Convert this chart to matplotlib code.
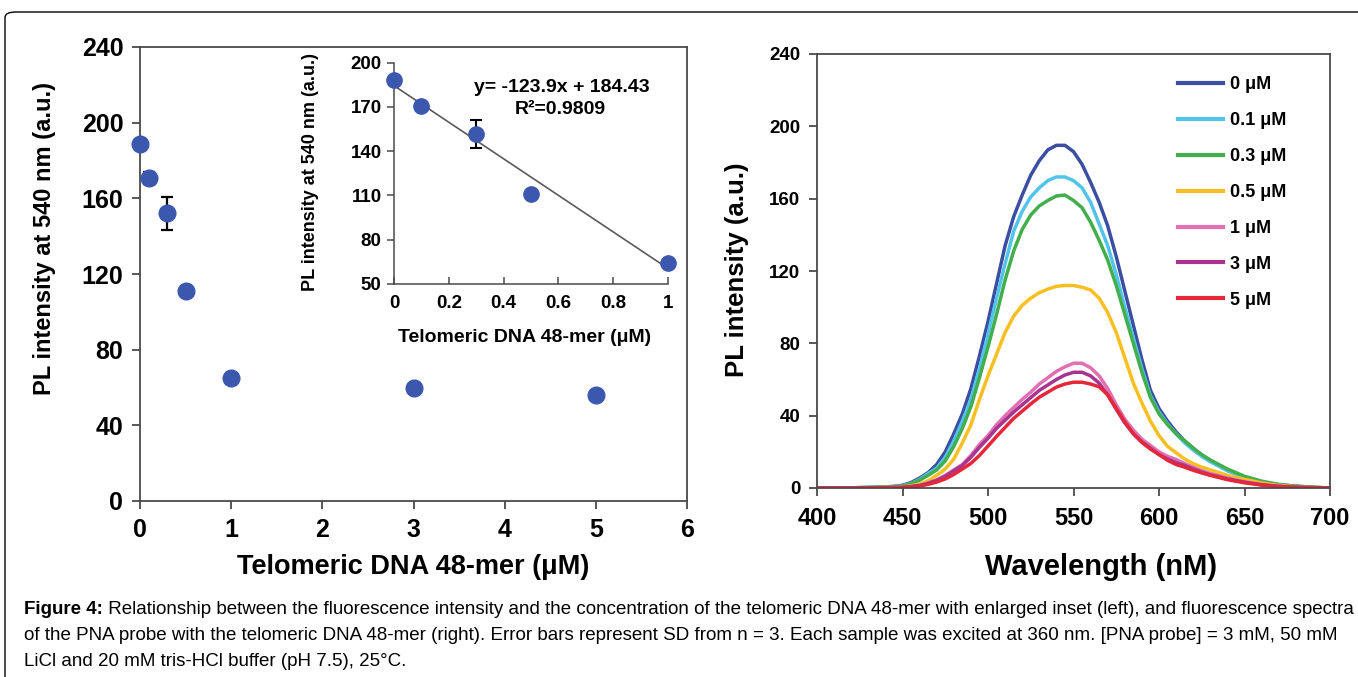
import matplotlib
matplotlib.use('Agg')
import matplotlib.pyplot as plt
from matplotlib.patches import FancyBboxPatch
import numpy as np

# ---------------- data ----------------
conc = [0, 0.1, 0.3, 0.5, 1, 3, 5]
pl_540 = [188.5, 170.7, 152.0, 111.0, 65.0, 59.5, 56.0]
pl_err = [0, 3.0, 8.5, 0, 0, 0, 0]

inset_conc = [0, 0.1, 0.3, 0.5, 1]
inset_pl = [188.3, 170.7, 151.5, 111.0, 64.4]
inset_err = [0, 1.5, 9.5, 0, 0]
fit_slope = -123.9
fit_intercept = 184.43
fit_text = "y= -123.9x + 184.43"
r2_text = "R\u00b2=0.9809"

wavelength = [400, 410, 420, 430, 440,
              445, 450, 455, 460, 465, 470, 475, 480, 485, 490,
              495, 500, 505, 510, 515, 520, 525, 530, 535, 540,
              545, 550, 555, 560, 565, 570, 575, 580, 585, 590,
              595, 600, 605, 610, 615, 620, 625, 630,
              640, 650, 660, 670, 680, 690, 700]
spec_0 = [0, 0, 0.1, 0.3, 0.6,
          0.9, 1.5, 3, 5.5, 8.5, 13, 20, 30, 41, 55,
          73, 92, 113, 134, 150, 162, 173, 181, 187, 189.5,
          189.5, 186, 179, 169, 158, 145, 128, 109, 90, 71,
          54, 44, 37, 31, 26, 22, 18, 15,
          10, 6, 3.3, 1.8, 1, 0.4, 0]
spec_01 = [0, 0, 0.1, 0.3, 0.6,
           0.8, 1.3, 2.5, 4.8, 8, 11, 17, 26, 37, 49,
           66, 85, 105, 124, 142, 153, 161, 166, 170, 172,
           172, 170, 166, 158, 146, 134, 118, 100, 83, 66,
           51, 42, 35.5, 30, 25, 21, 17.5, 14.5,
           9.5, 5.8, 3.3, 1.8, 1, 0.4, 0]
spec_03 = [0, 0, 0.1, 0.3, 0.6,
           0.8, 1.2, 2.3, 4.3, 7, 10, 15, 23, 33, 45,
           61, 78, 96, 115, 131, 143, 151, 156, 159, 161.5,
           162, 159, 155, 147, 137, 126, 112, 96, 80, 64,
           50, 41, 35, 30, 26, 22, 18.5, 15.5,
           10.5, 6.5, 3.8, 2, 1, 0.4, 0]
spec_05 = [0, 0, 0, 0.1, 0.3,
           0.4, 0.6, 1.2, 2.2, 4, 7, 10.5, 16, 25, 35,
           49, 62, 74, 86, 95, 101, 105, 108, 110, 111.5,
           112, 112, 111, 109.5, 105, 97, 86, 72, 58, 47,
           37, 29, 23, 19.5, 16, 13.5, 11.5, 10,
           7, 4.8, 2.8, 1.4, 0.7, 0.3, 0]
spec_1 = [0, 0, 0, 0.1, 0.2,
          0.3, 0.4, 0.8, 1.5, 2.8, 4.5, 7, 10, 13, 18,
          24, 29, 35, 40, 44.5, 49, 53, 57.5, 61, 64.5,
          67, 69, 69, 66.5, 62, 55, 46, 38, 32, 27,
          23.5, 20, 17.5, 15.8, 13.5, 11.5, 9.5, 8,
          5.5, 3.5, 2, 1, 0.5, 0.2, 0]
spec_3 = [0, 0, 0, 0.1, 0.2,
          0.3, 0.4, 0.8, 1.4, 2.6, 4.2, 6.5, 9.5, 12.5, 17,
          22.5, 27.5, 33, 37.5, 42, 46, 50, 54, 57, 60,
          62.5, 64, 64, 62, 58, 51.5, 43.5, 36, 30, 25.5,
          22, 18.5, 16, 14, 12.5, 10.5, 8.8, 7.3,
          5, 3.2, 1.8, 0.9, 0.4, 0.2, 0]
spec_5 = [0, 0, 0, 0.1, 0.2,
          0.2, 0.3, 0.6, 1.1, 2, 3.3, 5, 7.5, 10.5, 13.6,
          18, 23.2, 28.5, 33.5, 38.5, 42.5, 46.5, 50.2, 53, 55.8,
          57.5, 58.5, 58.5, 57.5, 56, 51.5, 44, 36.5, 30, 25.2,
          21.5, 18.5, 15.3, 13, 11.5, 9.8, 8.3, 7,
          4.6, 2.9, 1.6, 0.8, 0.4, 0.2, 0]
spec_labels = ["0 \u03bcM", "0.1 \u03bcM", "0.3 \u03bcM", "0.5 \u03bcM", "1 \u03bcM", "3 \u03bcM", "5 \u03bcM"]
spec_colors = ["#3C4EA2", "#52C4EC", "#43AE4C", "#F8BF22", "#E070B2", "#A8348F", "#E4283A"]

caption_bold = "Figure 4:"
caption_l1 = (" Relationship between the fluorescence intensity and the concentration of the telomeric "
              "DNA 48-mer with enlarged inset (left), and fluorescence spectra")
caption_l2 = ("of the PNA probe with the telomeric DNA 48-mer (right). Error bars represent SD from n = 3. "
              "Each sample was excited at 360 nm. [PNA probe] = 3 mM, 50 mM")
caption_l3 = "LiCl and 20 mM tris-HCl buffer (pH 7.5), 25\u00b0C."

# ---------------- style ----------------
plt.rcParams['font.family'] = ['Liberation Sans', 'DejaVu Sans']
plt.rcParams['font.weight'] = 'bold'
plt.rcParams['axes.labelweight'] = 'bold'

W, H = 1358, 677
fig = plt.figure(figsize=(W / 100, H / 100), dpi=100)


def fr(x0, y0, x1, y1):
    return [x0 / W, 1 - y1 / H, (x1 - x0) / W, (y1 - y0) / H]


spine_c = '#4a4a4a'
dot_c = '#3B57AE'


def style_spines(ax, lw=1.3):
    for s in ax.spines.values():
        s.set_color(spine_c)
        s.set_linewidth(lw)


def center_labels(ax):
    ax.xaxis.label.set_va('center')
    ax.yaxis.label.set_va('center')


# outer frame
frame = FancyBboxPatch((5 / W, -0.05), 1.1, 0.05 + (1 - 12 / H), boxstyle="round,pad=0,rounding_size=0.008",
                       transform=fig.transFigure, fill=False, edgecolor='black', linewidth=1.0)
fig.patches.append(frame)

# ---------------- left main ----------------
ax1 = fig.add_axes(fr(140, 47, 687, 501))
ax1.errorbar(conc, pl_540, yerr=pl_err, fmt='none', ecolor='black', elinewidth=1.6, capsize=4.5,
             capthick=1.6, zorder=2)
ax1.plot(conc, pl_540, 'o', color=dot_c, ms=12, mec=dot_c, zorder=3, clip_on=False)
ax1.set_xlim(0, 6)
ax1.set_ylim(0, 240)
ax1.set_xticks(range(0, 7))
ax1.set_yticks(range(0, 241, 40))
ax1.tick_params(direction='out', length=6, width=1.3, color=spine_c, labelsize=18, pad=6)
style_spines(ax1)
ax1.set_xlabel("Telomeric DNA 48-mer (\u03bcM)", fontsize=19.5)
ax1.set_ylabel("PL intensity at 540 nm (a.u.)", fontsize=17)
center_labels(ax1)
ax1.xaxis.set_label_coords(0.50, -0.1454)
ax1.yaxis.set_label_coords(-0.1737, 0.578)

# ---------------- inset ----------------
ax2 = fig.add_axes(fr(394, 62.7, 668, 284))
ax2.patch.set_alpha(0)
xs = np.array([0, 1])
ax2.plot(xs, fit_slope * xs + fit_intercept, color='#5a5a5a', lw=1.2, zorder=1)
ax2.errorbar(inset_conc, inset_pl, yerr=inset_err, fmt='none', ecolor='black', elinewidth=1.5,
             capsize=4, capthick=1.5, zorder=2)
ax2.plot(inset_conc, inset_pl, 'o', color=dot_c, ms=11, mec=dot_c, zorder=3, clip_on=False)
ax2.set_xlim(0, 1)
ax2.set_ylim(50, 200)
ax2.set_xticks([0, 0.2, 0.4, 0.6, 0.8, 1])
ax2.set_xticklabels(['0', '0.2', '0.4', '0.6', '0.8', '1'])
ax2.set_yticks(range(50, 201, 30))
ax2.spines['top'].set_visible(False)
ax2.spines['right'].set_visible(False)
style_spines(ax2, 1.1)
ax2.tick_params(axis='y', direction='out', length=5, width=1.1, color=spine_c, labelsize=13.5, pad=4)
ax2.tick_params(axis='x', direction='in', length=5, width=1.1, color=spine_c, labelsize=13.5, pad=8)
ax2.set_xlabel("Telomeric DNA 48-mer (\u03bcM)", fontsize=14)
ax2.set_ylabel("PL intensity at 540 nm (a.u.)", fontsize=13)
center_labels(ax2)
ax2.xaxis.set_label_coords(0.478, -0.24)
ax2.yaxis.set_label_coords(-0.303, 0.507)
ax2.text(0.613, 182.9, fit_text, ha='center', va='center', fontsize=14, fontweight='bold')
ax2.text(0.606, 168.6, r2_text, ha='center', va='center', fontsize=14, fontweight='bold')

# ---------------- right spectra ----------------
ax3 = fig.add_axes(fr(817, 54, 1330, 488))
series = [spec_0, spec_01, spec_03, spec_05, spec_1, spec_3, spec_5]
for vals, lab, col in zip(series, spec_labels, spec_colors):
    ax3.plot(wavelength, vals, color=col, lw=2.5, label=lab, solid_joinstyle='round')
ax3.set_xlim(400, 700)
ax3.set_ylim(0, 240)
ax3.set_xticks(range(400, 701, 50))
ax3.set_yticks(range(0, 241, 40))
style_spines(ax3)
ax3.tick_params(axis='x', direction='out', length=6, width=1.3, color=spine_c, labelsize=17, pad=8)
ax3.tick_params(axis='y', direction='out', length=6, width=1.3, color=spine_c, labelsize=13.5, pad=6)
ax3.set_xlabel("Wavelength (nM)", fontsize=21)
ax3.set_ylabel("PL intensity (a.u.)", fontsize=18.5)
center_labels(ax3)
ax3.xaxis.set_label_coords(0.554, -0.182)
ax3.yaxis.set_label_coords(-0.156, 0.502)
leg = ax3.legend(loc='upper left', bbox_to_anchor=(1178 / W, 1 - 76 / H), bbox_transform=fig.transFigure,
                 frameon=False, fontsize=13, handlelength=2.5, handletextpad=0.4, labelspacing=1.05,
                 borderpad=0, borderaxespad=0)
for line in leg.get_lines():
    line.set_linewidth(3)

# ---------------- caption ----------------
cap_fs = 13.5
t0 = fig.text(24 / W, 1 - 610 / H, caption_bold, fontsize=cap_fs, fontweight='bold',
              va='center', ha='left')
fig.add_artist(matplotlib.text.Annotation(caption_l1, xy=(1, 0.5), xycoords=t0, va='center', ha='left',
                                          fontsize=cap_fs, fontweight='normal', annotation_clip=False))
fig.text(24 / W, 1 - 636 / H, caption_l2, fontsize=cap_fs, fontweight='normal', va='center', ha='left')
fig.text(24 / W, 1 - 661 / H, caption_l3, fontsize=cap_fs, fontweight='normal', va='center', ha='left')

fig.savefig('out.png', dpi=100)
